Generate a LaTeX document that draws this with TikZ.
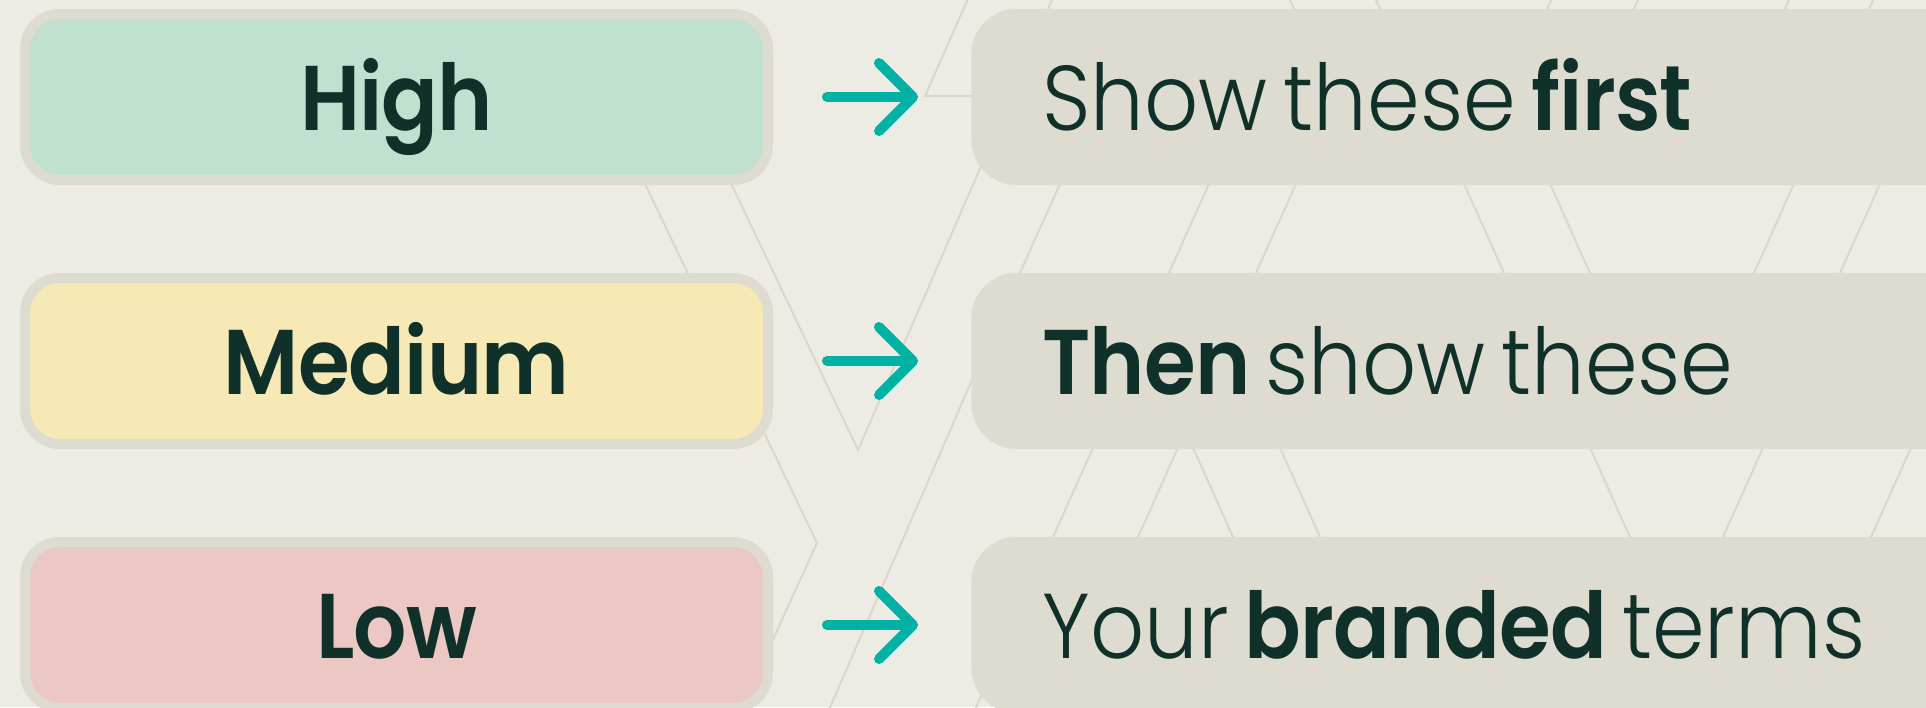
\documentclass[tikz,border=0pt]{standalone}
\usepackage{fontspec}
\setmainfont{Poppins}[UprightFont=* Light, BoldFont=* SemiBold,
  UprightFeatures={FakeStretch=0.92},
  BoldFeatures={FakeStretch=0.91, LetterSpace=-1}]
\usetikzlibrary{arrows.meta,calc}
\definecolor{bg}{HTML}{ECEBE4}
\definecolor{boxline}{HTML}{DEDBD0}
\definecolor{rfill}{HTML}{DEDCD1}
\definecolor{highc}{HTML}{C1E1D0}
\definecolor{medc}{HTML}{F7E9B6}
\definecolor{lowc}{HTML}{ECC8C4}
\definecolor{tealc}{HTML}{00B2A3}
\definecolor{ink}{HTML}{10302A}
\definecolor{gridc}{HTML}{DAD8CE}
\newcommand{\wsp}{\hspace{8pt}}
\tikzset{
  gridline/.style={draw=gridc, line width=1pt},
  lbox/.style={draw=boxline, line width=5pt, rounded corners=17.5pt,
    minimum width=371.5pt, minimum height=83pt, inner sep=0pt,
    font=\fontsize{46}{50}\selectfont\bfseries, text=ink,
    text height=33pt, text depth=0pt},
  rbox/.style={fill=rfill, rounded corners=22.5pt, anchor=west,
    minimum height=88pt, text width=500pt, inner xsep=35.5pt, inner ysep=0pt,
    align=left, font=\fontsize{46}{50}\selectfont, text=ink,
    text height=33pt, text depth=0pt},
  arr/.style={draw=tealc, line width=5pt, line cap=round,
    -{Straight Barb[length=17pt, width=34pt, round]},
    shorten <=27pt, shorten >=26.5pt}
}
\begin{document}
\begin{tikzpicture}[x=0.5pt, y=-0.5pt]
\useasboundingbox (0,0) rectangle (1926,707);
\clip (0,0) rectangle (1926,707);
\fill[bg] (0,0) rectangle (1926,707);
% background lattice lines
\draw[gridline] (600,90) -- (817,543) -- (740,712);
\draw[gridline] (689,95) -- (858,450) -- (1001,120);
\draw[gridline] (971,-8) -- (925,96) -- (1000,96);
\draw[gridline] (998,320) -- (828,712);
\draw[gridline] (1010,630) -- (974,712);
\foreach \x/\s in {1052/-1,1290/1,1376/1,1551/-1,1638/-1,1789/-1,1873/-1}
  \draw[gridline] ({\x-4.4*\s},-10) -- ({\x+13.2*\s},30);
\foreach \x/\s in {1059/-1,1208/-1,1295/-1,1793/-1,1879/-1,1465/1,1551/1}
  \draw[gridline] ({\x-9*\s},166) -- ({\x+48*\s},293);
\foreach \x/\s in {1092/-1,1177/-1,1194/1,1281/1,1591/1,1762/-1,1910/-1}
  \draw[gridline] ({\x-9*\s},430) -- ({\x+48*\s},557);
% left boxes
\node[lbox, fill=highc] (high) at (396.5,97) {High};
\node[lbox, fill=medc] (medium) at (396.5,361) {Medium};
\node[lbox, fill=lowc] (low) at (396.5,625) {Low};
% right boxes
\node[rbox] (first) at (971,97) {Show\wsp these\wsp\textbf{first}};
\node[rbox] (then) at (971,361) {\textbf{Then}\wsp show\wsp these};
\node[rbox] (brand) at (971,625) {Your\wsp\textbf{branded}\wsp terms};
% arrows
\draw[arr] (high.east) -- (first.west);
\draw[arr] (medium.east) -- (then.west);
\draw[arr] (low.east) -- (brand.west);
\end{tikzpicture}
\end{document}
